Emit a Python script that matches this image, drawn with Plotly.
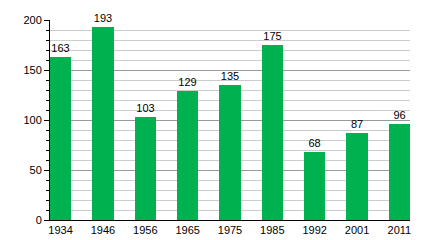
import plotly.graph_objects as go

years = ["1934", "1946", "1956", "1965", "1975", "1985", "1992", "2001", "2011"]
values = [163, 193, 103, 129, 135, 175, 68, 87, 96]

fig = go.Figure(go.Bar(
    x=years, y=values, width=0.5,
    marker=dict(color="#00B14F", line=dict(width=0)),
    text=[str(v) for v in values], textposition="outside",
    textfont=dict(color="black", size=11, family="Liberation Sans, Arial"),
    cliponaxis=False,
))

fig.update_layout(
    width=440, height=240,
    margin=dict(l=50, r=30, t=20, b=20, autoexpand=False),
    paper_bgcolor="white", plot_bgcolor="white",
    font=dict(family="Liberation Sans, Arial", size=11, color="black"),
    showlegend=False,
    bargap=0,
)
fig.update_xaxes(
    type="category", range=[-0.25, 8.25], automargin=False,
    showline=True, linecolor="black", linewidth=1,
    ticks="", showgrid=False,
)
fig.update_yaxes(
    range=[0, 200], dtick=50, tick0=0, automargin=False,
    showline=True, linecolor="black", linewidth=1,
    ticks="outside", ticklen=5, tickcolor="black",
    showgrid=True, gridcolor="#9a9a9a", gridwidth=1,
    zeroline=False,
    minor=dict(dtick=10, showgrid=True, gridcolor="#cccccc", gridwidth=1,
               ticks="outside", ticklen=3, tickcolor="black"),
)
fig.write_html("out.html")
